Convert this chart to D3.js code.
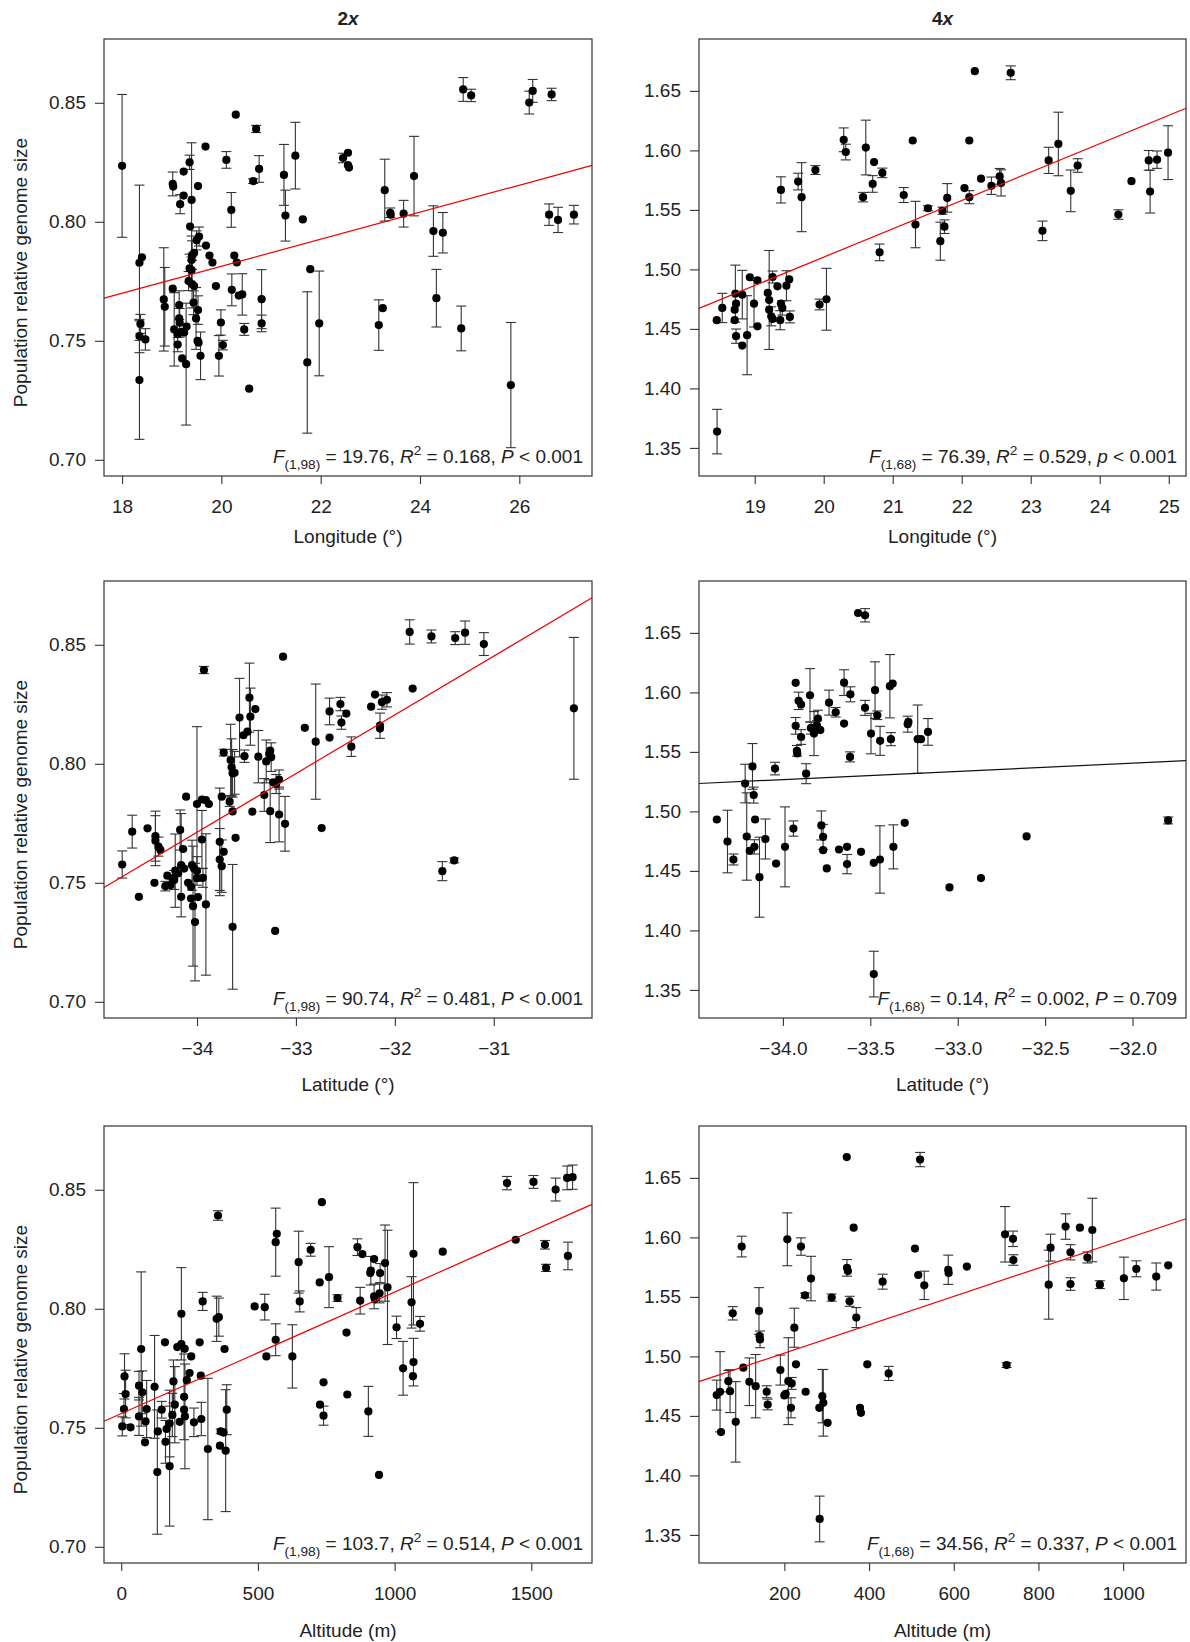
<!DOCTYPE html>
<html>
<head>
<meta charset="utf-8">
<script src="https://cdn.jsdelivr.net/npm/d3@7"></script>
<style>
  html, body { margin: 0; padding: 0; background: #fff; }
  svg { display: block; font-family: "Liberation Sans", Arial, Helvetica, sans-serif; }
</style>
</head>
<body>
<svg id="chart" width="1190" height="1642"></svg>
<script>
// ---- Data: [predictor, relative genome size, half-width of error bar] ----
const lon2x = [
  [18.00,0.8235,0.030],[18.35,0.7828,0.0326],[18.40,0.7851,0],[18.37,0.7571,0.004],[18.35,0.7520,0.007],
  [18.47,0.7506,0.0045],[18.35,0.7335,0.0249],[18.84,0.7674,0.0217],[18.86,0.7643,0.0165],[19.02,0.7719,0],
  [19.02,0.8159,0.005],[19.03,0.8148,0],[19.24,0.8211,0],[19.24,0.8110,0],[19.17,0.8074,0.004],
  [19.36,0.8250,0.003],[19.40,0.8092,0.024],[19.53,0.8150,0],[19.68,0.8316,0],[19.37,0.7980,0],
  [19.55,0.7938,0.004],[19.50,0.7922,0.004],[19.69,0.7900,0],[19.76,0.7858,0],[19.82,0.7829,0],
  [19.41,0.7860,0.006],[19.45,0.7870,0],[19.40,0.7840,0.010],[19.36,0.7804,0.006],[19.40,0.7797,0],
  [19.34,0.7751,0.004],[19.41,0.7738,0.010],[19.45,0.7730,0],[19.89,0.7730,0],[20.26,0.7858,0],
  [20.31,0.7829,0],[20.20,0.8050,0.0073],[20.10,0.8260,0.0035],[20.76,0.8222,0.0056],[20.64,0.8171,0.001],
  [20.70,0.8390,0.0015],[21.26,0.8197,0.0128],[21.49,0.8278,0.014],[21.29,0.8026,0.0107],[21.64,0.8010,0],
  [20.21,0.7714,0.0067],[20.35,0.7690,0],[20.42,0.7695,0.0087],[20.81,0.7675,0.0124],[20.81,0.7573,0.0035],
  [20.46,0.7548,0.0025],[19.99,0.7577,0.0053],[20.03,0.7482,0.002],[19.95,0.7437,0.0085],[20.56,0.7299,0],
  [21.79,0.7801,0],[21.97,0.7573,0.022],[21.73,0.7409,0.0297],
  [19.15,0.7650,0.006],[19.05,0.7548,0.0154],[19.12,0.7528,0],[19.19,0.7538,0],[19.25,0.7535,0],
  [19.16,0.7576,0.006],[19.15,0.7594,0],[19.12,0.7484,0.003],[19.21,0.7426,0],[19.29,0.7402,0.0256],
  [19.53,0.7629,0.006],[19.49,0.7594,0.013],[19.52,0.7500,0],[19.54,0.7492,0],[19.58,0.7437,0.010],
  [19.30,0.7560,0],[19.44,0.7660,0.005],
  [20.29,0.8450,0],[22.45,0.8268,0.002],[22.55,0.8290,0],[22.55,0.8238,0],[22.57,0.8228,0],
  [23.29,0.8133,0.013],[23.40,0.8038,0.002],[23.41,0.8030,0],[23.67,0.8034,0.0056],[23.88,0.8192,0.0167],
  [24.27,0.7961,0.0106],[24.46,0.7954,0.0085],[24.33,0.7679,0.0121],[24.83,0.7552,0.0094],[23.17,0.7566,0.0106],
  [23.25,0.7637,0],[24.87,0.8556,0.005],[25.03,0.8531,0.0026],[26.20,0.8501,0.0048],[26.27,0.8550,0.0048],
  [26.65,0.8535,0.0026],[26.60,0.8030,0.0045],[26.78,0.8008,0.0053],[27.10,0.8030,0.0039],[25.83,0.7314,0.0263]
];

const lon4x = [
  [18.45,1.4573,0],[18.53,1.4676,0.0123],[18.72,1.4796,0.024],[18.73,1.4712,0],[18.71,1.4662,0],
  [18.71,1.4573,0],[18.73,1.4439,0.006],[18.82,1.4360,0],[18.82,1.4788,0.0204],[18.89,1.4447,0.0332],
  [18.93,1.4934,0],[18.99,1.4712,0.0196],[19.04,1.4909,0],[19.04,1.4522,0],[19.19,1.4802,0],
  [19.21,1.4743,0.0416],[19.21,1.4662,0],[19.24,1.4606,0.008],[19.26,1.4584,0],[19.26,1.4936,0.005],
  [19.33,1.4858,0],[19.38,1.4712,0],[19.40,1.4676,0.006],[19.37,1.4573,0.008],[19.46,1.4863,0.0126],
  [19.50,1.4916,0],[19.51,1.4601,0.005],
  [19.94,1.4705,0.0045],[20.04,1.4749,0.026],[18.455,1.3637,0.0187],
  [19.38,1.5668,0.011],[19.63,1.5738,0.007],[19.68,1.5607,0.029],[19.88,1.5835,0.0037],[20.29,1.6089,0.010],
  [20.32,1.5986,0.0066],[20.61,1.6024,0.023],[20.57,1.5607,0.004],[20.73,1.5902,0],[20.71,1.5718,0.007],
  [20.85,1.5811,0.004],[20.81,1.5143,0.007],[21.16,1.5625,0.0063],[21.29,1.6083,0],[21.33,1.5377,0.0195],
  [21.51,1.5514,0.002],[21.69,1.5237,0.016],[21.72,1.5493,0.003],[21.75,1.5359,0.0057],[21.79,1.5601,0.012],
  [22.04,1.5683,0],[22.11,1.5607,0.0055],[22.11,1.6083,0],[22.19,1.6666,0],[22.28,1.5762,0],
  [22.43,1.5703,0.0073],[22.55,1.5782,0.0066],[22.57,1.5727,0.011],[22.71,1.6652,0.0058],[23.17,1.5324,0.0082],
  [23.26,1.5916,0.011],[23.40,1.6054,0.0267],[23.58,1.5660,0.0175],[23.68,1.5873,0.0057],[24.27,1.5461,0.004],
  [24.46,1.5741,0],[24.71,1.5916,0.0083],[24.73,1.5654,0.018],[24.83,1.5922,0.0073],[24.99,1.5981,0.0226]
];

const lat2x = [
  [-34.756,0.7577,0.0057],[-34.655,0.7715,0.0069],[-34.587,0.7441,0],[-34.50,0.7729,0],[-34.43,0.7500,0],
  [-34.42,0.7696,0.0105],[-34.42,0.7677,0.0105],[-34.39,0.7652,0.004],[-34.37,0.7638,0],[-34.30,0.7530,0],
  [-34.32,0.7486,0.002],[-34.27,0.7490,0],[-34.23,0.7512,0.004],[-34.22,0.7551,0.0154],[-34.19,0.7540,0],
  [-34.17,0.7722,0.0084],[-34.14,0.7642,0],[-34.16,0.7574,0.0217],[-34.16,0.7441,0],[-34.06,0.7483,0],
  [-34.05,0.7574,0.0105],[-34.03,0.7560,0],[-34.00,0.7550,0.006],[-34.00,0.7520,0],[-33.94,0.7521,0.004],
  [-33.95,0.7682,0.0122],[-34.06,0.7434,0],[-34.04,0.7402,0.0252],[-34.02,0.7335,0.0247],[-33.91,0.7409,0.0297],
  [-34.00,0.7831,0.0325],[-33.95,0.7850,0],[-33.91,0.7847,0],[-33.88,0.7831,0],[-34.11,0.7862,0],
  [-33.77,0.7672,0.0226],[-33.77,0.7598,0.013],[-33.75,0.7570,0.011],[-33.73,0.7630,0],[-33.75,0.7862,0],
  [-33.67,0.7841,0.002],[-33.64,0.7800,0],[-33.64,0.7960,0.010],[-33.65,0.7985,0.012],[-33.62,0.7962,0.009],
  [-33.73,0.8047,0.0014],[-33.64,0.7315,0.0262],[-33.61,0.7689,0],[-33.66,0.8016,0.015],[-33.57,0.8194,0.0165],
  [-33.52,0.8032,0.0026],[-33.49,0.8135,0],[-33.46,0.8198,0.012],[-33.47,0.8278,0.0145],[-33.41,0.8230,0],
  [-33.38,0.8030,0.011],[-33.44,0.7799,0],[-33.32,0.7869,0.0069],[-33.30,0.8010,0.009],[-33.27,0.8042,0],
  [-33.25,0.8028,0.006],[-33.26,0.8055,0],[-33.26,0.7801,0.0132],[-33.23,0.7922,0],[-33.20,0.7915,0.004],
  [-33.17,0.7934,0.004],[-33.17,0.7787,0.0115],[-33.11,0.7748,0.0115],[-33.21,0.7298,0],[-33.13,0.8450,0],
  [-32.91,0.8151,0],[-32.80,0.8093,0.0242],[-32.74,0.7730,0],[-32.66,0.8110,0],[-32.66,0.8220,0.0056],
  [-32.55,0.8251,0.0028],[-32.54,0.8173,0.0028],[-32.49,0.8211,0],[-32.44,0.8072,0.0041],[-32.24,0.8240,0],
  [-32.20,0.8291,0],[-32.13,0.8259,0.003],[-32.08,0.8269,0.003],[-32.15,0.8160,0.0053],[-32.15,0.8148,0],
  [-31.82,0.8316,0],[-31.85,0.8554,0.0051],[-31.63,0.8535,0.0027],[-31.39,0.8528,0.0027],[-31.29,0.8551,0.0049],
  [-31.10,0.8503,0.0048],[-30.19,0.8233,0.0298],[-31.52,0.7549,0.004],[-31.40,0.7594,0.001],[-33.93,0.8394,0.0015],
  [-34.13,0.7560,0],[-34.09,0.7500,0],[-33.99,0.7440,0],[-34.25,0.7520,0],[-33.53,0.8120,0]
];

const lat4x = [
  [-34.378,1.4932,0],[-34.317,1.4747,0.0263],[-34.283,1.4596,0.0046],[-34.216,1.5234,0.0162],[-34.207,1.4789,0.0367],
  [-34.190,1.4669,0],[-34.174,1.5378,0.0192],[-34.167,1.5137,0.0067],[-34.159,1.4932,0],[-34.163,1.4702,0.006],
  [-34.134,1.4447,0.0336],[-34.100,1.4768,0.0168],[-34.045,1.5360,0.0053],[-34.039,1.4562,0],[-33.988,1.4702,0.0336],
  [-33.940,1.4856,0.0064],[-33.927,1.6080,0],[-33.927,1.5719,0.007],[-33.920,1.5509,0.0045],[-33.918,1.5487,0],
  [-33.910,1.5929,0.0073],[-33.896,1.5898,0],[-33.896,1.5625,0.0062],[-33.867,1.5317,0.0084],[-33.845,1.5976,0.0224],
  [-33.835,1.5702,0],[-33.822,1.5654,0.0185],[-33.826,1.5683,0],[-33.800,1.5780,0.007],[-33.786,1.5683,0],
  [-33.805,1.5722,0.004],[-33.780,1.4882,0.0122],[-33.770,1.4786,0.0105],[-33.770,1.4674,0],[-33.749,1.4521,0],
  [-33.736,1.5914,0.0105],[-33.698,1.5833,0.004],[-33.679,1.4680,0],[-33.650,1.6082,0.0108],[-33.650,1.5738,0],
  [-33.633,1.4702,0],[-33.633,1.4557,0.0081],[-33.614,1.5984,0.0063],[-33.616,1.5458,0.0042],[-33.553,1.4660,0],
  [-33.530,1.5870,0.0063],[-33.570,1.6667,0],[-33.530,1.6648,0.0056],[-33.496,1.5654,0.017],[-33.480,1.4568,0],
  [-33.445,1.4596,0.0283],[-33.473,1.6019,0.0238],[-33.460,1.5808,0.0036],[-33.444,1.5593,0.0122],[-33.480,1.3633,0.0192],
  [-33.382,1.5607,0.0055],[-33.388,1.6052,0.0266],[-33.372,1.6074,0],[-33.368,1.4702,0.0185],[-33.303,1.4904,0],
  [-33.286,1.5733,0.0067],[-33.282,1.5752,0],[-33.229,1.5607,0.0287],[-33.210,1.5607,0],[-33.170,1.5668,0.0112],
  [-33.047,1.4361,0],[-32.867,1.4440,0],[-32.606,1.4790,0],[-31.796,1.4924,0.0029],[-33.840,1.5700,0.005]
];

const alt2x = [
  [4,0.7506,0.004],[12,0.7716,0.0095],[16,0.7642,0.010],[10,0.7579,0.0065],[34,0.7502,0],
  [65,0.7677,0.006],[73,0.7831,0.0324],[77,0.7649,0.009],[65,0.7548,0.008],[93,0.7579,0.012],
  [89,0.7527,0],[87,0.7439,0],[122,0.7672,0.0216],[132,0.7314,0.0261],[134,0.7485,0],
  [148,0.7576,0.0035],[162,0.7441,0.009],[166,0.7495,0],[177,0.7518,0.014],[177,0.7339,0.0252],
  [187,0.7554,0.0091],[191,0.7695,0.009],[196,0.7597,0.016],[214,0.7525,0],[230,0.7576,0],
  [230,0.7630,0.018],[233,0.7548,0.022],[220,0.7852,0],[220,0.7979,0.0194],[205,0.7839,0],
  [232,0.7832,0],[160,0.7859,0],[256,0.7800,0],[250,0.7730,0],[266,0.7523,0.006],
  [293,0.7537,0.007],[287,0.7859,0],[291,0.7719,0],[298,0.8031,0.0038],[349,0.7958,0.0095],
  [357,0.7965,0.008],[354,0.8392,0.002],[378,0.7831,0],[364,0.7485,0.001],[374,0.7480,0],
  [361,0.7425,0],[382,0.7404,0.0256],[386,0.7576,0.0105],[317,0.7411,0.0297],[488,0.8010,0],
  [525,0.8007,0.0054],[531,0.7800,0],[565,0.7870,0.0067],[565,0.8280,0.0143],[569,0.8315,0],
  [649,0.8196,0.013],[653,0.8031,0.0044],[626,0.7800,0.0133],[693,0.8248,0.0027],[726,0.8111,0],
  [734,0.8448,0],[760,0.8133,0.0128],[791,0.8045,0.0014],[824,0.7900,0],[740,0.7691,0],
  [727,0.7597,0],[740,0.7551,0.004],[827,0.7640,0],[904,0.7569,0.0105],[943,0.7302,0],
  [864,0.8259,0.0035],[882,0.8230,0],[925,0.8209,0],[913,0.8160,0.006],[911,0.8150,0],
  [947,0.8150,0.004],[874,0.8034,0.0056],[925,0.8052,0.0052],[928,0.8040,0],[945,0.8065,0.004],
  [965,0.8192,0.016],[974,0.8090,0.024],[1007,0.7922,0.0047],[1031,0.7750,0.0113],[1069,0.8231,0.0299],
  [1062,0.8027,0.0108],[1069,0.7776,0.010],[1067,0.7717,0],[1093,0.7937,0.0031],[1176,0.8240,0],
  [1411,0.8528,0.0028],[1443,0.8290,0],[1508,0.8533,0.0027],[1550,0.8269,0.0018],[1554,0.8172,0.0015],
  [1589,0.8501,0.0048],[1631,0.8550,0.005],[1651,0.8553,0.0051],[1634,0.8222,0.0058],[240,0.7700,0]
];

const alt4x = [
  [40.3,1.4675,0.0126],[48.2,1.4703,0.0337],[50.5,1.4364,0],[67.8,1.4792,0.009],[71.8,1.4708,0.018],
  [85.2,1.4450,0.0338],[78.1,1.5362,0.0056],[99.3,1.5923,0.0087],[103.2,1.4905,0],[117.4,1.4787,0.020],
  [132.3,1.4750,0.0266],[140.2,1.5382,0.0196],[142.6,1.5143,0.007],[141.5,1.5170,0],[158.3,1.4703,0.005],
  [160.7,1.4596,0.0045],[190.6,1.4885,0.0126],[200.0,1.4672,0],[203.1,1.4686,0],[207.0,1.5984,0.0222],
  [209.4,1.4792,0.0365],[217.3,1.4773,0.005],[215.7,1.4568,0.0084],[223.6,1.5241,0.0164],[227.5,1.4933,0],
  [239.3,1.5923,0.0073],[250.3,1.4703,0],[248.8,1.5513,0.002],[262.9,1.5654,0.0187],[282.6,1.4568,0],
  [289.7,1.4666,0.0224],[292.0,1.4610,0.028],[302.2,1.4442,0],[283.4,1.3634,0.0192],[311.7,1.5494,0.003],
  [347.9,1.5744,0.007],[350.2,1.5717,0],[354.1,1.5463,0.0042],[363.6,1.6082,0],[369.9,1.5326,0.0084],
  [378.6,1.4568,0],[380.9,1.4526,0],[395.9,1.4933,0],[432.1,1.5628,0.0063],[446.3,1.4857,0.0059],
  [508.5,1.5906,0],[516.2,1.5684,0],[530.4,1.5597,0.0119],[587.0,1.5728,0.0123],[588.0,1.5700,0],
  [631.0,1.5755,0],[347.4,1.6675,0],[520.5,1.6654,0.006],[721.2,1.6026,0.0233],[739.9,1.5988,0.0065],
  [740.8,1.5810,0.0044],[724.8,1.4927,0.002],[824.2,1.5603,0.029],[828.6,1.5914,0.0113],[864.1,1.6091,0.0107],
  [875.7,1.5875,0.0064],[875.7,1.5608,0.0053],[897.9,1.6082,0],[915.6,1.5831,0.0046],[927.2,1.6062,0.0267],
  [945.0,1.5603,0.0033],[1001.8,1.5656,0.0178],[1031.1,1.5736,0.0067],[1078.1,1.5671,0.0114],[1106.5,1.5765,0]
];

// Fitted regression lines: [intercept, slope]
const fitLon2x = [0.6679, 0.005672];
const fitLon4x = [1.0339, 0.02382];
const fitLat2x = [1.6100, 0.02467];
const fitLat4x = [1.7610, 0.00689];
const fitAlt2x = [0.7560, 0.00005104];
const fitAlt4x = [1.4790, 0.00011897];

// Regression statistics printed in each panel
const statLon2x = ["(1,98)", "19.76", "0.168", "P", "<", "0.001"];
const statLon4x = ["(1,68)", "76.39", "0.529", "p", "<", "0.001"];
const statLat2x = ["(1,98)", "90.74", "0.481", "P", "<", "0.001"];
const statLat4x = ["(1,68)", "0.14",  "0.002", "P", "=", "0.709"];
const statAlt2x = ["(1,98)", "103.7", "0.514", "P", "<", "0.001"];
const statAlt4x = ["(1,68)", "34.56", "0.337", "P", "<", "0.001"];

// Tick values
const yTicks2x = [0.70, 0.75, 0.80, 0.85];
const yTicks4x = [1.35, 1.40, 1.45, 1.50, 1.55, 1.60, 1.65];
const lonTicks2x = [18, 20, 22, 24, 26];
const lonTicks4x = [19, 20, 21, 22, 23, 24, 25];
const latTicks2x = [-34, -33, -32, -31];
const latTicks4x = [-34.0, -33.5, -33.0, -32.5, -32.0];
const altTicks2x = [0, 500, 1000, 1500];
const altTicks4x = [200, 400, 600, 800, 1000];

const columnTitles = ["2", "4"];
const axisTitles = ["Longitude (\u00b0)", "Latitude (\u00b0)", "Altitude (m)"];
const yTitle = "Population relative genome size";

// ---- Layout ----
const cols = [{x0: 104, x1: 592}, {x0: 699, x1: 1186}];
const rows = [{y0: 39, y1: 476, lab: 543}, {y0: 581, y1: 1018, lab: 1091}, {y0: 1126, y1: 1563, lab: 1637}];
const FONT = 19;

const panels = [
  {r:0, c:0, data: lon2x, fit: fitLon2x, stat: statLon2x, xd: [17.636, 27.464], yd: [0.6932, 0.8768], xt: lonTicks2x, yt: yTicks2x, xf: d3.format("d"), yf: d3.format(".2f"), lineColor: "#f00000"},
  {r:0, c:1, data: lon4x, fit: fitLon4x, stat: statLon4x, xd: [18.193, 25.25], yd: [1.3264, 1.6936], xt: lonTicks4x, yt: yTicks4x, xf: d3.format("d"), yf: d3.format(".2f"), lineColor: "#f00000"},
  {r:1, c:0, data: lat2x, fit: fitLat2x, stat: statLat2x, xd: [-34.94, -30.007], yd: [0.6932, 0.8768], xt: latTicks2x, yt: yTicks2x, xf: d3.format("d"), yf: d3.format(".2f"), lineColor: "#f00000"},
  {r:1, c:1, data: lat4x, fit: fitLat4x, stat: statLat4x, xd: [-34.48, -31.694], yd: [1.3264, 1.6936], xt: latTicks4x, yt: yTicks4x, xf: d3.format(".1f"), yf: d3.format(".2f"), lineColor: "#111111"},
  {r:2, c:0, data: alt2x, fit: fitAlt2x, stat: statAlt2x, xd: [-63, 1722], yd: [0.6932, 0.8768], xt: altTicks2x, yt: yTicks2x, xf: d3.format("d"), yf: d3.format(".2f"), lineColor: "#f00000"},
  {r:2, c:1, data: alt4x, fit: fitAlt4x, stat: statAlt4x, xd: [-1.5, 1148.4], yd: [1.3264, 1.6936], xt: altTicks4x, yt: yTicks4x, xf: d3.format("d"), yf: d3.format(".2f"), lineColor: "#f00000"}
];

const svg = d3.select("#chart");

// Column titles: "2x" / "4x" with italic x
columnTitles.forEach((t, i) => {
  const cx = (cols[i].x0 + cols[i].x1) / 2;
  const txt = svg.append("text").attr("x", cx).attr("y", 25)
    .attr("text-anchor", "middle").attr("font-size", FONT).attr("font-weight", "bold").attr("fill", "#222");
  txt.append("tspan").text(t);
  txt.append("tspan").attr("font-style", "italic").text("x");
});

panels.forEach(p => {
  const C = cols[p.c], R = rows[p.r];
  const x = d3.scaleLinear().domain(p.xd).range([C.x0, C.x1]);
  const y = d3.scaleLinear().domain(p.yd).range([R.y1, R.y0]);
  const g = svg.append("g");

  // Axes
  const xa = g.append("g").attr("transform", `translate(0,${R.y1})`)
    .call(d3.axisBottom(x).tickValues(p.xt).tickFormat(p.xf).tickSize(8).tickPadding(16));
  const ya = g.append("g").attr("transform", `translate(${C.x0},0)`)
    .call(d3.axisLeft(y).tickValues(p.yt).tickFormat(p.yf).tickSize(9).tickPadding(9));
  [xa, ya].forEach(a => {
    a.select(".domain").remove();
    a.selectAll(".tick line").attr("stroke", "#333").attr("stroke-width", 1.1);
    a.selectAll(".tick text").attr("font-size", FONT).attr("fill", "#222")
      .style("font-family", '"Liberation Sans", Arial, sans-serif');
  });

  // Error bars
  const bars = p.data.filter(d => d[2] > 0);
  const eb = g.append("g").attr("stroke", "#333").attr("stroke-width", 1.1).attr("fill", "none");
  eb.selectAll("line.v").data(bars).join("line").attr("class", "v")
    .attr("x1", d => x(d[0])).attr("x2", d => x(d[0]))
    .attr("y1", d => y(d[1] - d[2])).attr("y2", d => y(d[1] + d[2]));
  eb.selectAll("line.t").data(bars).join("line").attr("class", "t")
    .attr("x1", d => x(d[0]) - 5).attr("x2", d => x(d[0]) + 5)
    .attr("y1", d => y(d[1] + d[2])).attr("y2", d => y(d[1] + d[2]));
  eb.selectAll("line.b").data(bars).join("line").attr("class", "b")
    .attr("x1", d => x(d[0]) - 5).attr("x2", d => x(d[0]) + 5)
    .attr("y1", d => y(d[1] - d[2])).attr("y2", d => y(d[1] - d[2]));

  // Points
  g.append("g").selectAll("circle").data(p.data).join("circle")
    .attr("cx", d => x(d[0])).attr("cy", d => y(d[1])).attr("r", 4.1).attr("fill", "#000");

  // Regression line spanning the plot region
  const [a, b] = p.fit;
  g.append("line")
    .attr("x1", x(p.xd[0])).attr("y1", y(a + b * p.xd[0]))
    .attr("x2", x(p.xd[1])).attr("y2", y(a + b * p.xd[1]))
    .attr("stroke", p.lineColor).attr("stroke-width", 1.2);

  // Frame
  g.append("rect").attr("x", C.x0).attr("y", R.y0)
    .attr("width", C.x1 - C.x0).attr("height", R.y1 - R.y0)
    .attr("fill", "none").attr("stroke", "#333").attr("stroke-width", 1.2);

  // Statistics
  const [df, F, R2, pSym, rel, pv] = p.stat;
  const st = g.append("text").attr("x", C.x1 - 9).attr("y", R.y1 - 13)
    .attr("text-anchor", "end").attr("font-size", FONT).attr("fill", "#222");
  st.append("tspan").attr("font-style", "italic").text("F");
  st.append("tspan").attr("font-size", FONT * 0.72).attr("dy", 6).text(df);
  st.append("tspan").attr("dy", -6).text(` = ${F}, `);
  st.append("tspan").attr("font-style", "italic").text("R");
  st.append("tspan").attr("font-size", FONT * 0.72).attr("dy", -8).text("2");
  st.append("tspan").attr("dy", 8).text(` = ${R2}, `);
  st.append("tspan").attr("font-style", "italic").text(pSym);
  st.append("tspan").text(` ${rel} ${pv}`);

  // Axis titles
  svg.append("text").attr("x", (C.x0 + C.x1) / 2).attr("y", R.lab)
    .attr("text-anchor", "middle").attr("font-size", FONT).attr("fill", "#222")
    .text(axisTitles[p.r]);
  if (p.c === 0) {
    const cy = (R.y0 + R.y1) / 2 + 15;
    svg.append("text").attr("transform", `translate(27,${cy}) rotate(-90)`)
      .attr("text-anchor", "middle").attr("font-size", FONT).attr("fill", "#222")
      .text(yTitle);
  }
});
</script>
</body>
</html>
